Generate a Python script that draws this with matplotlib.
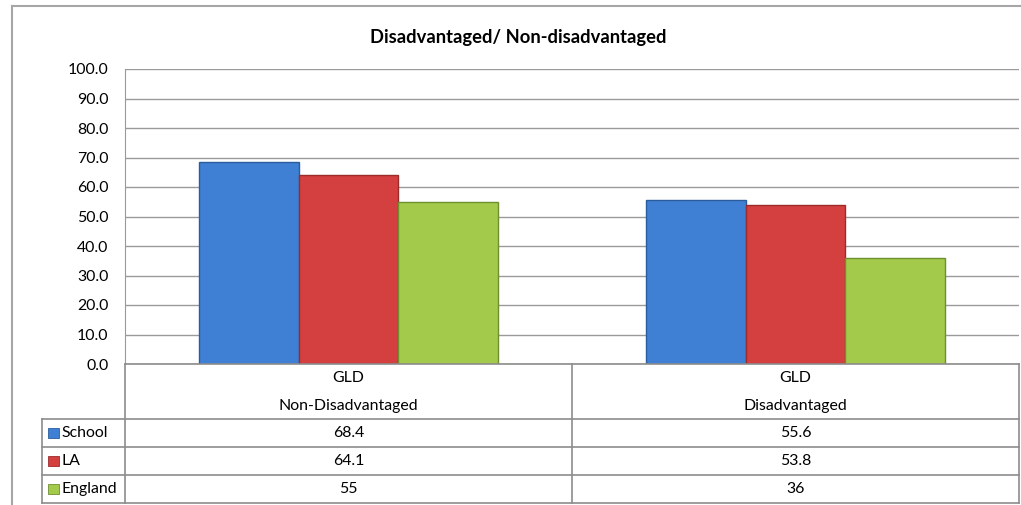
import matplotlib.pyplot as plt
import numpy as np
from matplotlib.lines import Line2D
from matplotlib.patches import Rectangle
from matplotlib.transforms import blended_transform_factory

plt.rcParams['font.family'] = ['Lato', 'DejaVu Sans']

# data
categories = ["Non-Disadvantaged", "Disadvantaged"]
cat_top = ["GLD", "GLD"]
series = ["School", "LA", "England"]
values = {
    "School": [68.4, 55.6],
    "LA": [64.1, 53.8],
    "England": [55, 36],
}
value_labels = {
    "School": ["68.4", "55.6"],
    "LA": ["64.1", "53.8"],
    "England": ["55", "36"],
}
colors = {"School": "#3F80D4", "LA": "#D43F3F", "England": "#A3CA4A"}
edges = {"School": "#2B5C9C", "LA": "#9C2B2B", "England": "#6F8E2E"}

W, H = 1021, 505
fig = plt.figure(figsize=(W / 100, H / 100), dpi=100)


def fx(px):
    return px / W


def fy(py):
    return 1 - py / H


ax = fig.add_axes([fx(125), fy(364), fx(1019) - fx(125), fy(69) - fy(364)])

x = np.arange(len(categories))
bw = 0.2235
for i, s in enumerate(series):
    ax.bar(x + (i - 1) * bw, values[s], width=bw, color=colors[s],
           edgecolor=edges[s], linewidth=1.0, zorder=3)

ax.set_xlim(-0.5, 1.5)
ax.set_ylim(0, 100)
ax.set_yticks(np.arange(0, 101, 10))
ax.set_yticklabels([f"{v:.1f}" for v in np.arange(0, 101, 10)], fontsize=11.4)
ax.tick_params(axis='y', length=0, pad=12)
ax.set_xticks([])
ax.yaxis.grid(True, color="#9a9a9a", linewidth=1.0, zorder=0)
for side in ["top", "right", "bottom"]:
    ax.spines[side].set_visible(False)
ax.spines["left"].set_color("#9a9a9a")

fig.text(fx(518), fy(38), "Disadvantaged/ Non-disadvantaged", ha="center",
         va="center", fontsize=13.2, fontweight="bold")

# data table below the plot
gray = "#8c8c8c"


def hline(y, x0, x1):
    fig.add_artist(Line2D([fx(x0), fx(x1)], [fy(y), fy(y)], color=gray, lw=1.2))


def vline(xp, y0, y1):
    fig.add_artist(Line2D([fx(xp), fx(xp)], [fy(y0), fy(y1)], color=gray, lw=1.2))


# chart border
fig.add_artist(Line2D([fx(12), fx(1021)], [fy(6), fy(6)], color="#a6a6a6", lw=1.5))
fig.add_artist(Line2D([fx(12), fx(12)], [fy(6), fy(505)], color="#a6a6a6", lw=1.5))

hline(364, 125, 1019)
row_lines = [419, 447, 475, 503]
for r in row_lines:
    hline(r, 42, 1019)
vline(125, 364, 503)
vline(572, 364, 503)
vline(1019, 364, 503)
vline(42, 419, 503)

tr = blended_transform_factory(ax.transData, fig.transFigure)
for i, c in enumerate(categories):
    fig.text(x[i], fy(378), cat_top[i], transform=tr, ha="center", va="center", fontsize=11.4)
    fig.text(x[i], fy(406), c, transform=tr, ha="center", va="center", fontsize=11.4)

row_centers = [433, 461, 489]
for s, yc in zip(series, row_centers):
    fig.add_artist(Rectangle((fx(48), fy(yc + 5)), fx(11), fy(yc - 5) - fy(yc + 5),
                             facecolor=colors[s], edgecolor=edges[s], lw=0.6))
    fig.text(fx(61), fy(yc), s, ha="left", va="center", fontsize=11.4)
    for i in range(len(categories)):
        fig.text(x[i], fy(yc), value_labels[s][i], transform=tr, ha="center",
                 va="center", fontsize=11.4)

fig.savefig("out.png", dpi=100)
